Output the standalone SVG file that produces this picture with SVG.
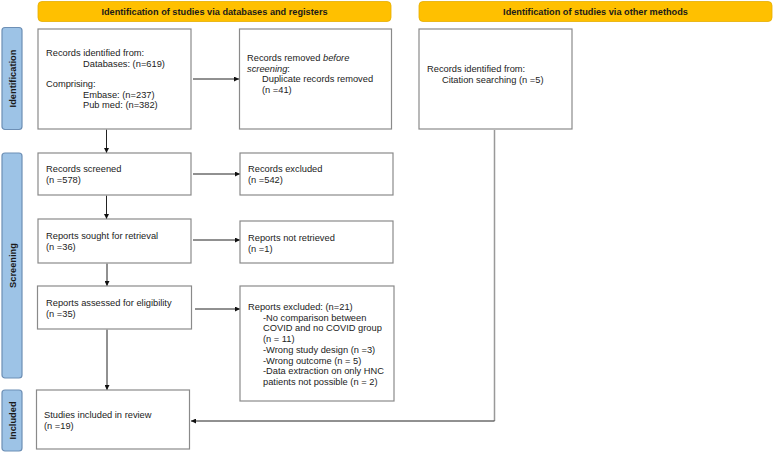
<svg xmlns="http://www.w3.org/2000/svg" width="773" height="452" viewBox="0 0 773 452">
<style>
.hdr{fill:#ffc000;stroke:#e6ad00;stroke-width:0.8}
.ht{font-family:"Liberation Sans",Arial,sans-serif;font-size:9.2px;font-weight:bold;fill:#1a1a1a;text-anchor:middle}
.side{fill:#9dc3e6;stroke:#6d8fb5;stroke-width:1.2}
.st{font-family:"Liberation Sans",Arial,sans-serif;font-size:9.3px;font-weight:bold;fill:#1a1a1a;text-anchor:middle}
.box{fill:#fff;stroke:#8a8a8a;stroke-width:1.2}
.t{font-family:"Liberation Sans",Arial,sans-serif;font-size:9.3px;fill:#222}
.c{fill:none;stroke:#222;stroke-width:1}
.g{fill:none;stroke:#999;stroke-width:1.5}
</style>
<defs>
<marker id="ah" viewBox="0 0 10 10" refX="10" refY="5" markerWidth="5" markerHeight="5" orient="auto" markerUnits="userSpaceOnUse">
<path d="M0,0 L10,5 L0,10 z" fill="#111"/>
</marker>
</defs>
<rect width="773" height="452" fill="#fff"/>
<g id="header-db"><rect class="hdr" x="38" y="1.5" width="353" height="20" rx="4"/><text class="ht" x="214.5" y="14.6">Identification of studies via databases and registers</text></g>
<g id="header-other"><rect class="hdr" x="419" y="1.5" width="353" height="20" rx="4"/><text class="ht" x="595.5" y="14.6">Identification of studies via other methods</text></g>
<g id="side-identification"><rect class="side" x="2" y="27.5" width="20" height="102" rx="3"/><text class="st" transform="translate(15.5,78.5) rotate(-90)">Identification</text></g>
<g id="side-screening"><rect class="side" x="2" y="153" width="20" height="225" rx="3"/><text class="st" transform="translate(15.5,265.5) rotate(-90)">Screening</text></g>
<g id="side-included"><rect class="side" x="2" y="390" width="20" height="61" rx="3"/><text class="st" transform="translate(15.5,420.5) rotate(-90)">Included</text></g>
<g id="connectors">
<line class="g" x1="494.5" y1="130" x2="494.5" y2="421"/>
<line class="c" x1="494.5" y1="421" x2="191" y2="421" marker-end="url(#ah)"/>
<line class="c" x1="106.5" y1="129.5" x2="106.5" y2="153" marker-end="url(#ah)"/>
<line class="c" x1="106.5" y1="195.5" x2="106.5" y2="219" marker-end="url(#ah)"/>
<line class="c" x1="107" y1="263.5" x2="107" y2="286" marker-end="url(#ah)"/>
<line class="c" x1="107" y1="329.5" x2="107" y2="390" marker-end="url(#ah)"/>
<line class="c" x1="193" y1="79" x2="239" y2="79" marker-end="url(#ah)"/>
<line class="c" x1="193" y1="174" x2="240" y2="174" marker-end="url(#ah)"/>
<line class="c" x1="193" y1="240" x2="240" y2="240" marker-end="url(#ah)"/>
<line class="c" x1="195" y1="309" x2="240" y2="309" marker-end="url(#ah)"/>
</g>
<g id="records-identified"><rect class="box" x="38" y="29" width="153" height="100"/>
<text class="t" x="46" y="56">Records identified from:</text>
<text class="t" x="83" y="66.5">Databases: (n=619)</text>
<text class="t" x="46" y="87">Comprising:</text>
<text class="t" x="83" y="97.5">Embase: (n=237)</text>
<text class="t" x="83" y="108">Pub med: (n=382)</text></g>
<g id="records-removed"><rect class="box" x="239.5" y="29" width="152" height="100"/>
<text class="t" x="247" y="61">Records removed <tspan font-style="italic">before</tspan></text>
<text class="t" x="247" y="71.5" font-style="italic">screening<tspan font-style="normal">:</tspan></text>
<text class="t" x="262" y="82">Duplicate records removed</text>
<text class="t" x="262" y="92.5">(n =41)</text></g>
<g id="citation"><rect class="box" x="419" y="29" width="153" height="100"/>
<text class="t" x="427" y="72">Records identified from:</text>
<text class="t" x="442" y="83">Citation searching (n =5)</text></g>
<g id="records-screened"><rect class="box" x="38" y="153" width="153" height="42"/>
<text class="t" x="46" y="172">Records screened</text>
<text class="t" x="46" y="183">(n =578)</text></g>
<g id="records-excluded"><rect class="box" x="240" y="153" width="153" height="42"/>
<text class="t" x="248" y="172">Records excluded</text>
<text class="t" x="248" y="183">(n =542)</text></g>
<g id="reports-sought"><rect class="box" x="38" y="219" width="153" height="44"/>
<text class="t" x="46" y="239">Reports sought for retrieval</text>
<text class="t" x="46" y="250">(n =36)</text></g>
<g id="reports-not-retrieved"><rect class="box" x="240" y="221" width="153" height="42"/>
<text class="t" x="248" y="241">Reports not retrieved</text>
<text class="t" x="248" y="252">(n =1)</text></g>
<g id="reports-assessed"><rect class="box" x="37.5" y="286" width="154" height="43"/>
<text class="t" x="46" y="306">Reports assessed for eligibility</text>
<text class="t" x="46" y="317">(n =35)</text></g>
<g id="reports-excluded"><rect class="box" x="240" y="286" width="154" height="115"/>
<text class="t" x="248" y="310">Reports excluded: (n=21)</text>
<text class="t" x="263" y="320.7">-No comparison between</text>
<text class="t" x="263" y="331.4">COVID and no COVID group</text>
<text class="t" x="263" y="342.1">(n = 11)</text>
<text class="t" x="263" y="352.8">-Wrong study design (n =3)</text>
<text class="t" x="263" y="363.5">-Wrong outcome (n = 5)</text>
<text class="t" x="263" y="374.2">-Data extraction on only HNC</text>
<text class="t" x="263" y="384.9">patients not possible (n = 2)</text></g>
<g id="studies-included"><rect class="box" x="36.5" y="390" width="153" height="59"/>
<text class="t" x="44" y="418">Studies included in review</text>
<text class="t" x="44" y="429">(n =19)</text></g>
</svg>
